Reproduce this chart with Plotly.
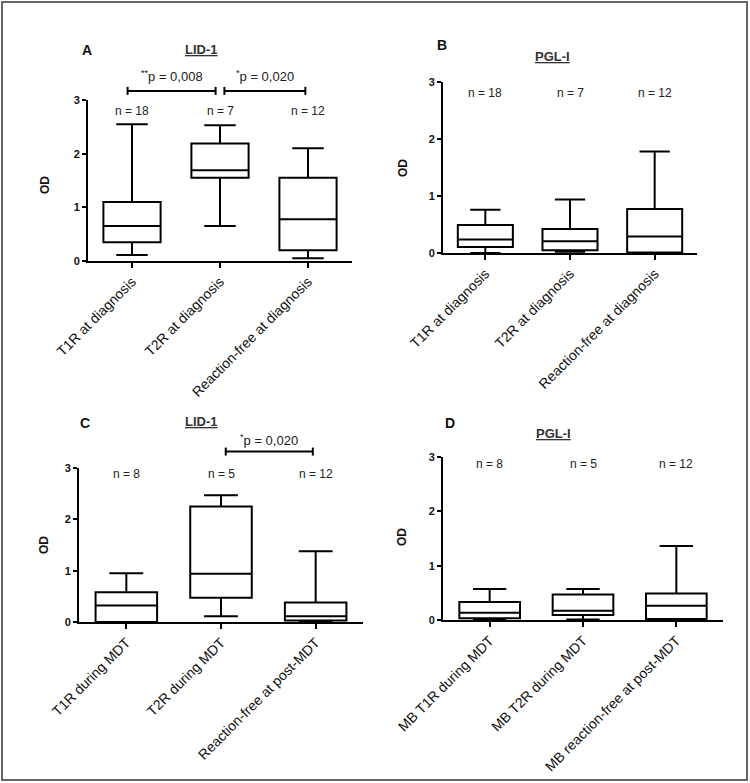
import plotly.graph_objects as go

# ---------------- data ----------------
cats_A = ["T1R at diagnosis", "T2R at diagnosis", "Reaction-free at diagnosis"]
cats_C = ["T1R during MDT", "T2R during MDT", "Reaction-free at post-MDT"]
cats_D = ["MB T1R during MDT", "MB T2R during MDT", "MB reaction-free at post-MDT"]

# LID-1 at diagnosis (panel A)
A_low = [0.11, 0.65, 0.05]
A_q1 = [0.35, 1.55, 0.20]
A_med = [0.65, 1.69, 0.78]
A_q3 = [1.10, 2.19, 1.55]
A_high = [2.55, 2.53, 2.10]
A_n = ["n = 18", "n = 7", "n = 12"]

# PGL-I at diagnosis (panel B)
B_low = [0.0, 0.02, 0.0]
B_q1 = [0.105, 0.05, 0.01]
B_med = [0.235, 0.205, 0.29]
B_q3 = [0.49, 0.42, 0.77]
B_high = [0.76, 0.94, 1.78]
B_n = ["n = 18", "n = 7", "n = 12"]

# LID-1 during MDT (panel C)
C_low = [0.0, 0.11, 0.0]
C_q1 = [0.0, 0.47, 0.03]
C_med = [0.32, 0.94, 0.11]
C_q3 = [0.58, 2.25, 0.38]
C_high = [0.95, 2.47, 1.38]
C_n = ["n = 8", "n = 5", "n = 12"]

# PGL-I during MDT (panel D)
D_low = [0.0, 0.01, 0.0]
D_q1 = [0.03, 0.09, 0.02]
D_med = [0.135, 0.17, 0.26]
D_q3 = [0.33, 0.47, 0.49]
D_high = [0.57, 0.57, 1.36]
D_n = ["n = 8", "n = 5", "n = 12"]

# significance brackets: (panel, from category, to category, bracket height, label, label height)
brackets = [
    ("A", 0, 1, 3.17, "<sup>**</sup>p = 0,008", 3.45),
    ("A", 1, 2, 3.17, "<sup>*</sup>p = 0,020", 3.45),
    ("C", 1, 2, 3.32, "<sup>*</sup>p = 0,020", 3.55),
]

# ---------------- layout geometry (styles) ----------------
W, H = 750, 783
FONT = "Arial, Liberation Sans, sans-serif"
XR = (-0.5, 2.5)
YR = (0, 3)


def px2x(p):
    return p / W


def px2y(p):
    return 1 - p / H


panels = {
    "A": dict(ax="", cats=cats_A, low=A_low, q1=A_q1, med=A_med, q3=A_q3, high=A_high, n=A_n, n_y=2.8,
              dom_x=(88, 352), dom_y=(100, 261), letter=(87, 50), title="LID-1", title_pos=(202, 50), od=(45, 185)),
    "B": dict(ax="2", cats=cats_A, low=B_low, q1=B_q1, med=B_med, q3=B_q3, high=B_high, n=B_n, n_y=2.8,
              dom_x=(443, 697), dom_y=(82, 253), letter=(442, 45), title="PGL-I", title_pos=(552, 56), od=(403, 168)),
    "C": dict(ax="3", cats=cats_C, low=C_low, q1=C_q1, med=C_med, q3=C_q3, high=C_high, n=C_n, n_y=2.89,
              dom_x=(79, 363), dom_y=(468, 622), letter=(85, 423), title="LID-1", title_pos=(202, 421), od=(44, 545)),
    "D": dict(ax="4", cats=cats_D, low=D_low, q1=D_q1, med=D_med, q3=D_q3, high=D_high, n=D_n, n_y=2.87,
              dom_x=(443, 723), dom_y=(457, 620), letter=(450, 423), title="PGL-I", title_pos=(553, 433), od=(402, 537)),
}


def data_to_paper(p, xv, yv):
    dx0, dx1 = px2x(p["dom_x"][0]), px2x(p["dom_x"][1])
    dy0, dy1 = px2y(p["dom_y"][1]), px2y(p["dom_y"][0])
    fx = (xv - XR[0]) / (XR[1] - XR[0])
    fy = (yv - YR[0]) / (YR[1] - YR[0])
    return dx0 + fx * (dx1 - dx0), dy0 + fy * (dy1 - dy0)


def paper_note(x, y, text, size, color, angle=0):
    return dict(x=x, y=y, xref="paper", yref="paper", xanchor="center", yanchor="middle",
                text=text, textangle=angle, showarrow=False,
                font=dict(family=FONT, size=size, color=color))


fig = go.Figure()
annotations = []
shapes = []

for key, p in panels.items():
    ax = p["ax"]
    fig.add_trace(go.Box(
        x=p["cats"], q1=p["q1"], median=p["med"], q3=p["q3"],
        lowerfence=p["low"], upperfence=p["high"],
        xaxis="x" + ax, yaxis="y" + ax,
        width=0.65, whiskerwidth=0.55,
        line=dict(color="black", width=2), fillcolor="white",
        boxpoints=False, showlegend=False, hoverinfo="skip",
    ))
    xa = dict(
        domain=[px2x(p["dom_x"][0]), px2x(p["dom_x"][1])],
        anchor="y" + ax, type="category", categoryorder="array", categoryarray=p["cats"],
        range=list(XR), showline=True, linecolor="black", linewidth=2,
        ticks="outside", ticklen=5, tickwidth=2, tickcolor="black",
        tickangle=-45, tickfont=dict(family=FONT, size=14, color="#111"),
        showgrid=False, zeroline=False, fixedrange=True, automargin=False,
    )
    ya = dict(
        domain=[px2y(p["dom_y"][1]), px2y(p["dom_y"][0])],
        anchor="x" + ax, range=list(YR), tickvals=[0, 1, 2, 3],
        showline=True, linecolor="black", linewidth=2,
        ticks="outside", ticklen=4, tickwidth=2, tickcolor="black",
        tickfont=dict(family=FONT, size=11, color="#111", weight="bold"),
        showgrid=False, zeroline=False, fixedrange=True, automargin=False,
    )
    fig.update_layout(**{"xaxis" + ax: xa, "yaxis" + ax: ya})

    # n labels
    for i, c in enumerate(p["cats"]):
        annotations.append(dict(x=c, y=p["n_y"], xref="x" + ax, yref="y" + ax, text=p["n"][i],
                                showarrow=False, font=dict(family=FONT, size=12, color="#222")))
    annotations.append(paper_note(px2x(p["letter"][0]), px2y(p["letter"][1]), "<b>" + key + "</b>", 14, "#111"))
    annotations.append(paper_note(px2x(p["title_pos"][0]), px2y(p["title_pos"][1]),
                                  "<b><u>" + p["title"] + "</u></b>", 13, "#333"))
    annotations.append(paper_note(px2x(p["od"][0]), px2y(p["od"][1]), "<b>OD</b>", 12, "#111", angle=-90))

# brackets
for key, c0, c1, h, label, ty in brackets:
    p = panels[key]
    xs0 = c0 - 0.05 if c0 == 0 else c0 + 0.05
    xs1 = c1 - 0.05 if c1 == 1 else c1 - 0.03
    x0, yb = data_to_paper(p, xs0, h)
    x1, _ = data_to_paper(p, xs1, h)
    cap = 4 / H
    shapes.append(dict(type="line", xref="paper", yref="paper", x0=x0, x1=x1, y0=yb, y1=yb,
                       line=dict(color="black", width=2)))
    for xx in (x0, x1):
        shapes.append(dict(type="line", xref="paper", yref="paper", x0=xx, x1=xx, y0=yb - cap, y1=yb + cap,
                           line=dict(color="black", width=2)))
    _, yt = data_to_paper(p, 0, ty)
    annotations.append(paper_note((x0 + x1) / 2, yt, label, 13, "#222"))

# outer frame
shapes.append(dict(type="rect", xref="paper", yref="paper", x0=px2x(2), x1=px2x(747), y0=px2y(780), y1=px2y(2),
                   line=dict(color="#666", width=2)))

fig.update_layout(
    width=W, height=H, margin=dict(l=0, r=0, t=0, b=0, autoexpand=False),
    paper_bgcolor="white", plot_bgcolor="white",
    annotations=annotations, shapes=shapes, showlegend=False,
)

fig.write_html("out.html", config={"displayModeBar": False},
               post_script="document.body.style.margin='0';document.body.style.overflow='hidden';")
